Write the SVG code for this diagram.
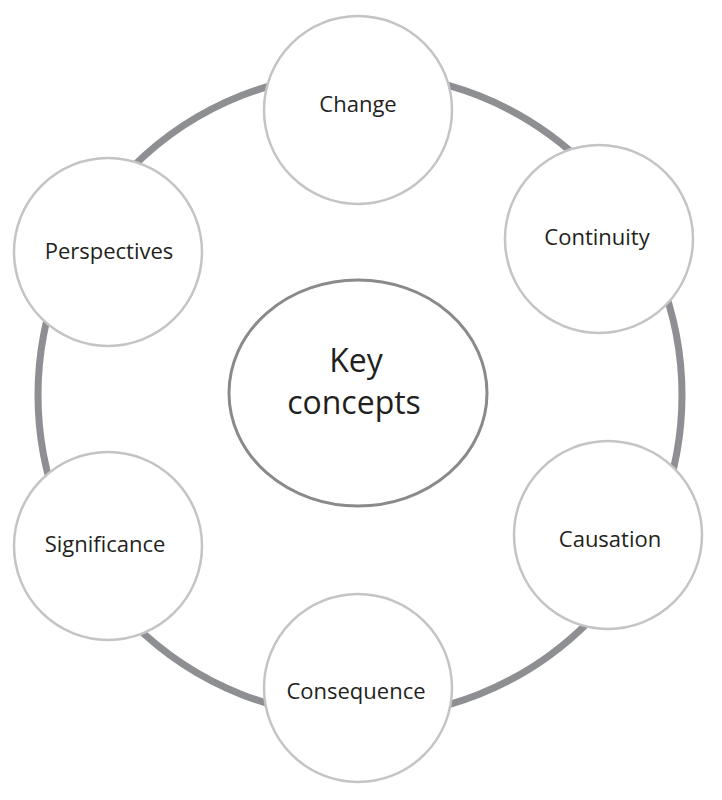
<svg xmlns="http://www.w3.org/2000/svg" width="722" height="800" viewBox="0 0 722 800">
<style>
.node{fill:#fff;stroke:#c4c4c4;stroke-width:2.5}
.lbl{font-family:"Open Sans","Noto Sans",sans-serif;font-size:22px;fill:#231f20;text-anchor:middle}
.big{font-size:32px}
.ring{fill:none;stroke:#8e8f93;stroke-width:7}
</style>
<rect width="722" height="800" fill="#fff"/>
<g id="connectors">
<circle class="ring" cx="360" cy="395" r="322"/>
</g>
<g id="key-concepts">
<ellipse cx="358" cy="393" rx="129" ry="113" fill="#fff" stroke="#8a8a8d" stroke-width="3"/>
<text class="lbl big" x="356" y="372">Key</text>
<text class="lbl big" x="354" y="414">concepts</text>
</g>
<g id="change">
<circle class="node" cx="358" cy="110" r="94"/>
<text class="lbl" x="358" y="112">Change</text>
</g>
<g id="continuity">
<circle class="node" cx="599" cy="239" r="94"/>
<text class="lbl" x="597" y="245">Continuity</text>
</g>
<g id="causation">
<circle class="node" cx="608" cy="535" r="94"/>
<text class="lbl" x="610" y="547">Causation</text>
</g>
<g id="consequence">
<circle class="node" cx="358" cy="688" r="94"/>
<text class="lbl" x="356" y="699">Consequence</text>
</g>
<g id="significance">
<circle class="node" cx="108" cy="546" r="94"/>
<text class="lbl" x="105" y="552">Significance</text>
</g>
<g id="perspectives">
<circle class="node" cx="108" cy="252" r="94"/>
<text class="lbl" x="109" y="259">Perspectives</text>
</g>
</svg>
